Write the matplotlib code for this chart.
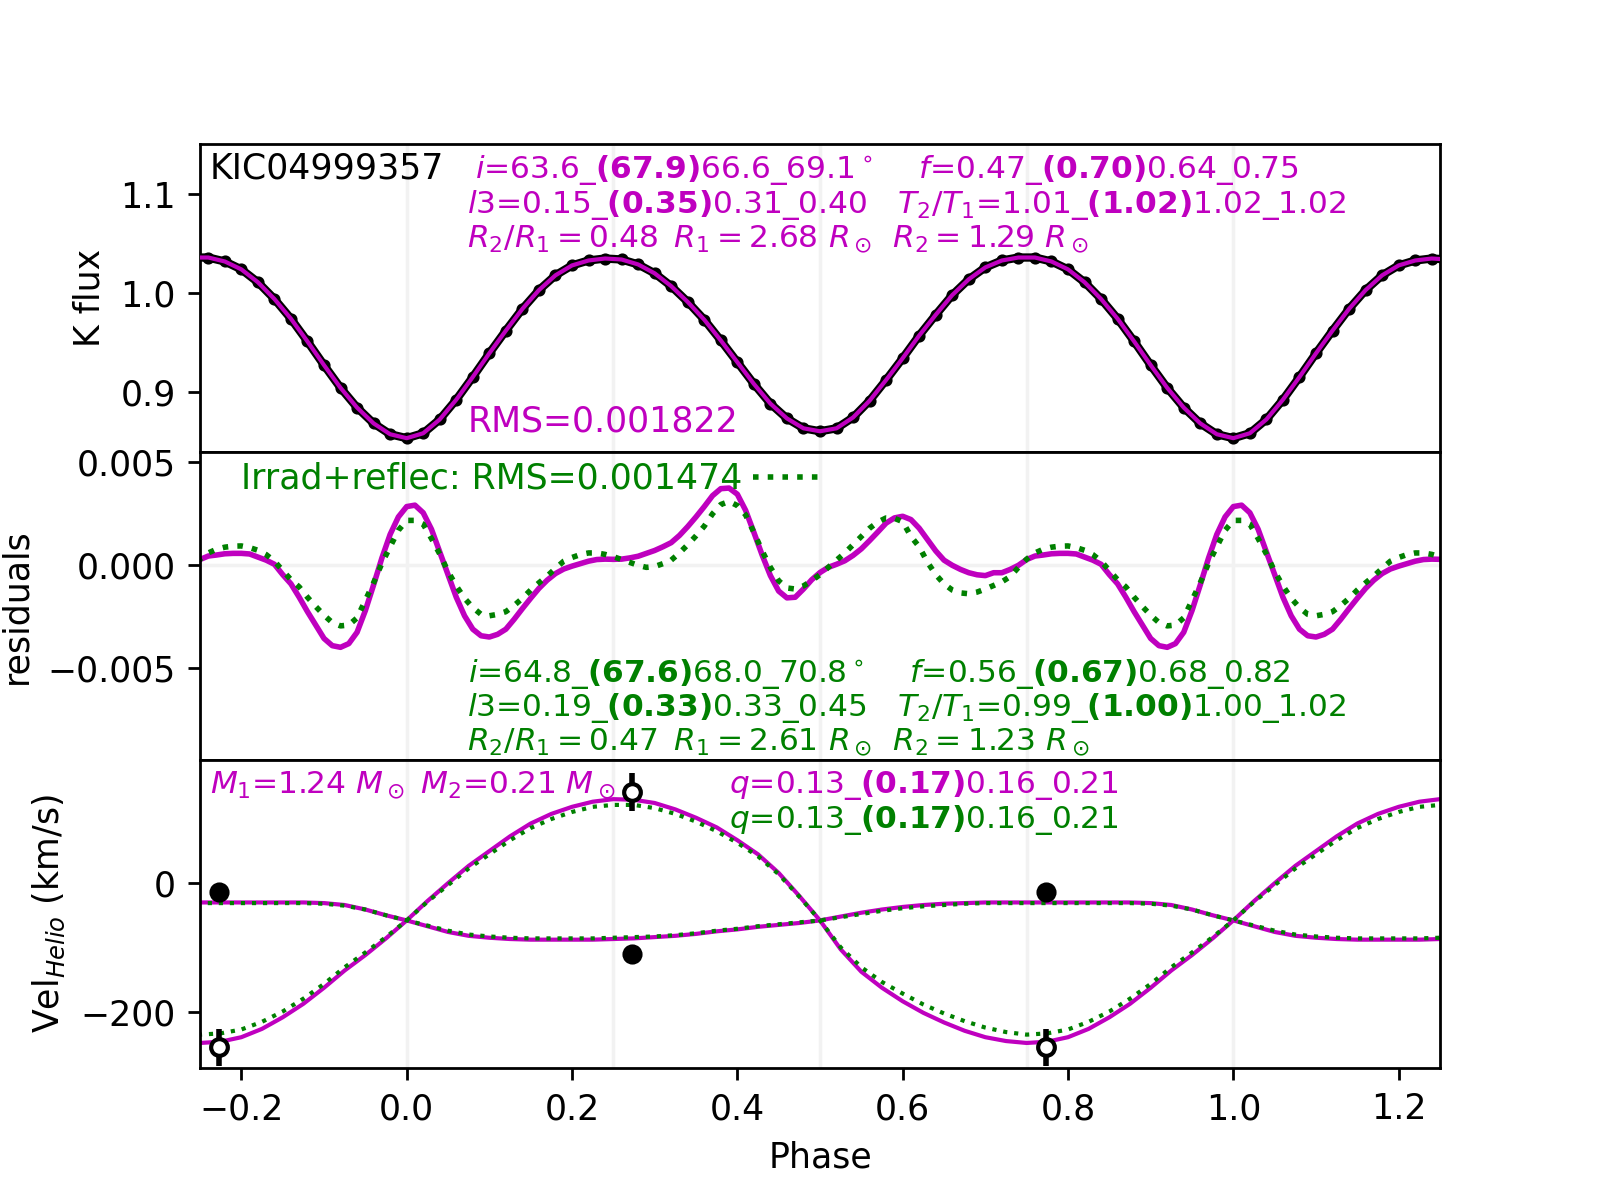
import numpy as np
import matplotlib
matplotlib.use('Agg')
import matplotlib.pyplot as plt

# one orbital period, folded onto -0.25..1.25 when drawn
lc_phase = np.arange(0, 1, 0.02)
kflux = [0.853, 0.858, 0.872, 0.892, 0.915, 0.939, 0.962, 0.984, 1.003, 1.018,
         1.028, 1.033, 1.035, 1.034, 1.029, 1.020, 1.007, 0.991, 0.973, 0.952,
         0.930, 0.908, 0.888, 0.873, 0.863, 0.860, 0.863, 0.874, 0.891, 0.912,
         0.934, 0.957, 0.978, 0.998, 1.014, 1.026, 1.033, 1.036, 1.036, 1.032,
         1.024, 1.011, 0.994, 0.974, 0.951, 0.927, 0.904, 0.884, 0.868, 0.857]

# residuals in units of 1e-3
res_phase = np.arange(0, 1, 0.01)
res_fit = [2.85, 2.92, 2.55, 1.75, 0.65, -0.45, -1.55, -2.45, -3.10, -3.42,
           -3.48, -3.35, -3.10, -2.62, -2.10, -1.60, -1.12, -0.72, -0.40, -0.18,
           -0.04, 0.08, 0.20, 0.28, 0.30, 0.29, 0.30, 0.36, 0.44, 0.58,
           0.72, 0.90, 1.10, 1.45, 1.88, 2.35, 2.85, 3.38, 3.72, 3.75,
           3.45, 2.67, 1.60, 0.50, -0.50, -1.25, -1.58, -1.55, -1.15, -0.70,
           -0.35, -0.10, 0.05, 0.22, 0.48, 0.80, 1.20, 1.62, 2.05, 2.30,
           2.38, 2.22, 1.80, 1.25, 0.70, 0.25, 0.00, -0.20, -0.36, -0.46,
           -0.50, -0.36, -0.36, -0.20, 0.00, 0.28, 0.45, 0.50, 0.56, 0.58,
           0.58, 0.55, 0.40, 0.25, 0.05, -0.45, -0.90, -1.55, -2.25, -2.90,
           -3.55, -3.90, -3.98, -3.80, -3.25, -2.20, -0.95, 0.35, 1.50, 2.35]
res_irr = [2.18, 2.18, 2.00, 1.30, 0.55, -0.30, -1.00, -1.60, -2.05, -2.38,
           -2.45, -2.38, -2.25, -1.95, -1.60, -1.20, -0.85, -0.52, -0.15, 0.20,
           0.38, 0.52, 0.60, 0.60, 0.53, 0.42, 0.28, 0.14, 0.00, -0.10,
           -0.06, 0.08, 0.25, 0.60, 1.00, 1.43, 1.90, 2.50, 2.95, 3.10,
           2.90, 2.45, 1.60, 0.70, -0.10, -0.75, -1.10, -1.15, -1.00, -0.75,
           -0.45, -0.10, 0.25, 0.60, 1.00, 1.40, 1.80, 2.10, 2.30, 2.28,
           2.12, 1.40, 0.90, 0.15, -0.45, -0.90, -1.20, -1.34, -1.38, -1.30,
           -1.15, -0.98, -0.80, -0.55, -0.10, 0.30, 0.60, 0.78, 0.88, 0.93,
           0.94, 0.86, 0.73, 0.52, 0.20, -0.25, -0.70, -1.05, -1.55, -2.00,
           -2.42, -2.78, -2.94, -2.90, -2.55, -1.70, -0.85, 0.10, 0.90, 1.70]

# radial velocity models (km/s)
rv_phase = np.arange(0, 1, 0.025)
rv1_fit = [-58, -67, -76, -82, -85, -87, -88, -88, -88, -88,
           -87, -86, -84, -82, -79, -75, -72, -68, -65, -62,
           -58, -52, -46, -41, -37, -34, -32, -31, -30, -30,
           -30, -30, -30, -30, -30, -30, -31, -34, -41, -50]
rv2_fit = [-58, -28, 0, 27, 50, 73, 93, 108, 119, 127,
           131, 130, 125, 115, 102, 87, 67, 45, 16, -20,
           -58, -103, -138, -163, -184, -202, -217, -230, -240, -246,
           -249, -247, -240, -227, -209, -188, -163, -136, -112, -86]
rv1_irr = [-58, -66, -74, -80, -83, -85, -86, -86, -86, -86,
           -85, -84, -83, -81, -78, -74, -71, -67, -64, -61,
           -58, -53, -48, -43, -39, -36, -34, -32, -31, -31,
           -31, -31, -31, -31, -31, -31, -32, -35, -41, -50]
rv2_irr = [-58, -29, -3, 23, 45, 67, 86, 100, 111, 119,
           122, 122, 117, 108, 96, 81, 63, 42, 14, -21,
           -58, -100, -131, -154, -172, -189, -203, -215, -225, -232,
           -236, -234, -228, -216, -200, -180, -157, -131, -108, -84]

# measured velocities
obs_phase = [0.272, 0.773]
obs_v1 = [-111, -14]
obs_v1_err = [10, 10]
obs_v2 = [142, -256]
obs_v2_err = [29, 29]


def fold(ph, val):
    ph = np.asarray(ph, dtype=float)
    val = np.asarray(val, dtype=float)
    return np.concatenate([ph - 1, ph, ph + 1]), np.tile(val, 3)


fig, axs = plt.subplots(3, 1, figsize=(6.4, 4.8), dpi=250, sharex=True)
fig.subplots_adjust(hspace=0)
ax1, ax2, ax3 = axs

for ax in axs:
    for g in [0, 0.25, 0.5, 0.75, 1.0]:
        ax.axvline(g, color='0.95', lw=1, zorder=0)

# light curve
x, y = fold(lc_phase, kflux)
ax1.plot(x, y, 'o-', color='k', lw=2.4, ms=2.5, zorder=2)
ax1.plot(x, y, '-', color='m', lw=1.2, zorder=3)
ax1.set_ylim(0.839, 1.151)
ax1.set_yticks([0.9, 1.0, 1.1])
ax1.set_ylabel('K flux')
ax1.tick_params(axis='x', bottom=False)

ax1.text(0.008, 0.888, 'KIC04999357', transform=ax1.transAxes, va='baseline', color='k')
ax1.text(0.222, 0.888, r'$i$=63.6_$\mathbf{(67.9)}$66.6_69.1$^\circ$    $f$=0.47_$\mathbf{(0.70)}$0.64_0.75',
         transform=ax1.transAxes, va='baseline', color='m', fontsize=9)
ax1.text(0.215, 0.775, r'$l3$=0.15_$\mathbf{(0.35)}$0.31_0.40   $T_2/T_1$=1.01_$\mathbf{(1.02)}$1.02_1.02',
         transform=ax1.transAxes, va='baseline', color='m', fontsize=9)
ax1.text(0.215, 0.664, r'$R_2/R_1 = 0.48$ $\,R_1 = 2.68\ R_\odot$ $\,R_2 = 1.29\ R_\odot$',
         transform=ax1.transAxes, va='baseline', color='m', fontsize=9)
ax1.text(0.216, 0.066, 'RMS=0.001822', transform=ax1.transAxes, va='baseline', color='m')

# residuals
ax2.axhline(0, color='0.95', lw=1, zorder=0)
x, y = fold(res_phase, res_fit)
ax2.plot(x, y * 1e-3, '-', color='m', lw=1.6)
x, y = fold(res_phase, res_irr)
ax2.plot(x, y * 1e-3, ':', color='green', lw=1.6, label='Irrad+reflec: RMS=0.001474')
ax2.set_ylim(-0.00945, 0.0055)
ax2.set_yticks([-0.005, 0.0, 0.005])
ax2.set_ylabel('residuals')
ax2.tick_params(axis='x', bottom=False)
ax2.legend(loc='upper left', bbox_to_anchor=(0.008, 1.07), frameon=False,
           markerfirst=False, labelcolor='green', handlelength=2, handletextpad=0.3)

ax2.text(0.216, 0.253, r'$i$=64.8_$\mathbf{(67.6)}$68.0_70.8$^\circ$    $f$=0.56_$\mathbf{(0.67)}$0.68_0.82',
         transform=ax2.transAxes, va='baseline', color='green', fontsize=9)
ax2.text(0.215, 0.143, r'$l3$=0.19_$\mathbf{(0.33)}$0.33_0.45   $T_2/T_1$=0.99_$\mathbf{(1.00)}$1.00_1.02',
         transform=ax2.transAxes, va='baseline', color='green', fontsize=9)
ax2.text(0.215, 0.032, r'$R_2/R_1 = 0.47$ $\,R_1 = 2.61\ R_\odot$ $\,R_2 = 1.23\ R_\odot$',
         transform=ax2.transAxes, va='baseline', color='green', fontsize=9)

# radial velocities
for vals, st, c in [(rv1_fit, '-', 'm'), (rv2_fit, '-', 'm'),
                    (rv1_irr, ':', 'green'), (rv2_irr, ':', 'green')]:
    x, y = fold(rv_phase, vals)
    ax3.plot(x, y, st, color=c, lw=1.2)

x, y = fold(obs_phase, obs_v1)
_, e = fold(obs_phase, obs_v1_err)
ax3.errorbar(x, y, yerr=e, fmt='o', color='k', ms=4.8, elinewidth=1.6, capsize=0, zorder=5)
x, y = fold(obs_phase, obs_v2)
_, e = fold(obs_phase, obs_v2_err)
ax3.errorbar(x, y, yerr=e, fmt='o', color='k', mfc='white', mec='k', mew=1.2, ms=4.8,
             elinewidth=1.6, capsize=0, zorder=5)
ax3.set_ylim(-288, 192)
ax3.set_yticks([-200, 0])
ax3.set_ylabel(r'Vel$_{Helio}$ (km/s)')
ax3.set_xlabel('Phase')

ax3.text(0.008, 0.893, r'$M_1$=1.24 $M_\odot$ $M_2$=0.21 $M_\odot$', transform=ax3.transAxes,
         va='baseline', color='m', fontsize=9)
ax3.text(0.427, 0.893, r'$q$=0.13_$\mathbf{(0.17)}$0.16_0.21', transform=ax3.transAxes,
         va='baseline', color='m', fontsize=9)
ax3.text(0.427, 0.779, r'$q$=0.13_$\mathbf{(0.17)}$0.16_0.21', transform=ax3.transAxes,
         va='baseline', color='green', fontsize=9)

ax3.set_xlim(-0.25, 1.25)

fig.savefig('out.png', dpi=250)
